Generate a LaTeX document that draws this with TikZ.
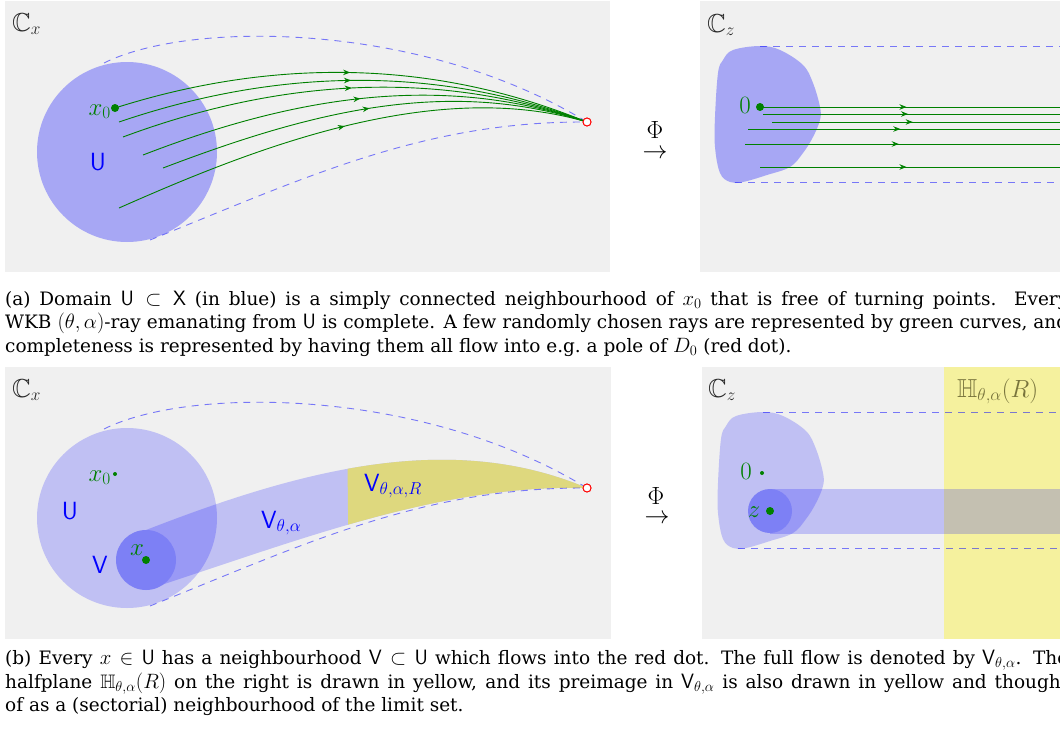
\documentclass[tikz,border=0pt]{standalone}
\usepackage{amssymb}
\usepackage[no-math]{fontspec}
\newfontfamily\capfont[Scale=0.947]{DejaVu Serif}
\usetikzlibrary{decorations.markings,arrows.meta}
\definecolor{bgray}{RGB}{240,240,240}
\definecolor{dgreen}{RGB}{0,128,0}
\definecolor{vblue}{RGB}{125,128,245}
\definecolor{yband}{RGB}{245,241,158}
\definecolor{yleft}{RGB}{222,216,126}
\definecolor{hlabel}{RGB}{120,116,60}
\definecolor{cgray}{RGB}{40,40,40}
\newcommand{\captxt}{\fontsize{19.5}{23.5}\selectfont\capfont}
\tikzset{
  panel/.style={fill=bgray},
  lbl/.style={font=\fontsize{26}{30}\selectfont, inner sep=0pt},
  ray/.style={draw=dgreen, line width=0.9pt, postaction={decorate},
    decoration={markings, mark=at position #1 with {\arrow{Stealth[length=7pt,width=5.5pt]}}}},
  ray/.default=0.5,
  env/.style={draw=blue, draw opacity=0.5, line width=0.9pt, dash pattern=on 7pt off 6pt},
  capline/.style={anchor=base west, inner sep=0pt, font=\fontsize{19.5}{23.5}\selectfont},
  pole/.style={circle, draw=red, fill=white, line width=0.9pt, minimum size=8pt, inner sep=0pt},
  gdot/.style={circle, fill=dgreen, inner sep=0pt, minimum size=8pt},
  sdot/.style={circle, fill=dgreen, inner sep=0pt, minimum size=4pt},
  phil/.style={inner sep=0pt, font=\fontsize{23}{27}\selectfont},
  arrl/.style={inner sep=0pt, font=\fontsize{29}{33}\selectfont},
}
\begin{document}
\begin{tikzpicture}[x=1pt,y=-1pt]
\useasboundingbox (0,0) rectangle (1060,731);
\clip (0,0) rectangle (1060,731);

% ================= TOP LEFT =================
\fill[panel] (5,1) rectangle (610,272);
\fill[blue, fill opacity=0.3] (127,152) circle (90);
\node[pole] (pole1) at (587,122) {};
\coordinate (eu1) at (104,63);
\coordinate (el1) at (150,240);
\draw[env] (eu1) .. controls (190,20) and (420,22) .. (pole1);
\draw[env] (el1) .. controls (300,180) and (420,122) .. (pole1);
\node[gdot] (x0d1) at (115,108) {};
\coordinate (s2) at (119,122);
\coordinate (s3) at (123,137);
\coordinate (s4) at (143,155);
\coordinate (s5) at (163,168);
\coordinate (s6) at (119,208);
\draw[ray] (x0d1.center) .. controls (260,62) and (420,55) .. (pole1);
\draw[ray] (s2) .. controls (260,74) and (420,60) .. (pole1);
\draw[ray] (s3) .. controls (260,86) and (420,64) .. (pole1);
\draw[ray] (s4) .. controls (280,102) and (430,70) .. (pole1);
\draw[ray] (s5) .. controls (300,116) and (440,76) .. (pole1);
\draw[ray] (s6) .. controls (250,150) and (430,78) .. (pole1);
\node[pole] at (pole1) {};
\node[lbl, anchor=base west, text=cgray] (cx1) at (12,31) {$\mathbb{C}_x$};
\node[lbl, anchor=base east, text=dgreen] (x0l1) at (111,115) {$x_0$};
\node[lbl, anchor=base, text=blue] (ul1) at (98,170) {$\mathsf{U}$};

% ================= TOP RIGHT =================
\fill[panel] (700,1) rectangle (1060,272);
\fill[blue, fill opacity=0.3] plot[smooth cycle, tension=0.6] coordinates {
  (723,60) (733,50) (760,46) (780,50) (803,65) (813,83) (820,107) (820,120)
  (813,137) (803,153) (790,167) (767,175) (743,182) (730,182) (720,173)
  (715,147) (715,117) (718,73)};
\coordinate (tu) at (760,46);
\coordinate (tue) at (1062,46);
\coordinate (tl) at (735,182);
\coordinate (tle) at (1062,182);
\draw[env] (tu) -- (tue);
\draw[env] (tl) -- (tle);
\node[gdot] (z0d1) at (760,107) {};
\coordinate (e1) at (1062,107);
\coordinate (r2) at (763,114);  \coordinate (e2) at (1062,114);
\coordinate (r3) at (772,122);  \coordinate (e3) at (1062,122);
\coordinate (r4) at (748,129);  \coordinate (e4) at (1062,129);
\coordinate (r5) at (745,144);  \coordinate (e5) at (1062,144);
\coordinate (r6) at (760,167);  \coordinate (e6) at (1062,167);
\draw[ray=0.485] (z0d1.center) -- (e1);
\draw[ray=0.485] (r2) -- (e2);
\draw[ray=0.485] (r3) -- (e3);
\draw[ray=0.485] (r4) -- (e4);
\draw[ray=0.485] (r5) -- (e5);
\draw[ray=0.485] (r6) -- (e6);
\node[lbl, anchor=base west, text=cgray] (cz1) at (707,32) {$\mathbb{C}_z$};
\node[lbl, anchor=base east, text=dgreen] (z0l1) at (751,113) {$0$};
\node[phil] (phi1) at (655,130) {$\Phi$};
\node[arrl] (ar1) at (655,154) {$\rightarrow$};

% ================= BOTTOM LEFT =================
\fill[panel] (5,367) rectangle (611,639);
\fill[blue, fill opacity=0.2] (127,518) circle (90);
\node[pole] (pole2) at (587,488) {};
\fill[blue, fill opacity=0.2] (146,530) .. controls (300,470) and (450,430) .. (pole2.center)
   .. controls (440,484) and (300,540) .. (146,590) -- cycle;
\begin{scope}
  \clip (347,420) -- (600,420) -- (600,600) -- (349,600) -- cycle;
  \fill[yleft] (146,530) .. controls (300,470) and (450,430) .. (pole2.center)
   .. controls (440,484) and (300,540) .. (146,590) -- cycle;
\end{scope}
\fill[vblue] (146,560) circle (30);
\coordinate (eu2) at (104,429);
\coordinate (el2) at (150,606);
\draw[env] (eu2) .. controls (190,386) and (420,388) .. (pole2);
\draw[env] (el2) .. controls (300,546) and (420,488) .. (pole2);
\node[pole] at (pole2) {};
\node[sdot] (x0d2) at (115,474) {};
\node[gdot] (xd2) at (146,560) {};
\node[lbl, anchor=base west, text=cgray] (cx2) at (12,397) {$\mathbb{C}_x$};
\node[lbl, anchor=base east, text=dgreen] (x0l2) at (111,481) {$x_0$};
\node[lbl, anchor=base, text=blue] (ul2) at (70,519) {$\mathsf{U}$};
\node[lbl, anchor=base, text=blue] (vl2) at (100,573) {$\mathsf{V}$};
\node[lbl, anchor=base, text=dgreen] (xl2) at (137,555) {$x$};
\node[lbl, anchor=base west, text=blue] (vtal) at (261,528) {$\mathsf{V}_{\theta,\alpha}$};
\node[lbl, anchor=base west, text=blue] (vtarl) at (364,491) {$\mathsf{V}_{\theta,\alpha,R}$};

% ================= BOTTOM RIGHT =================
\fill[panel] (702,367) rectangle (1060,639);
\fill[yband] (944,367) rectangle (1060,639);
\fill[blue, fill opacity=0.2] plot[smooth cycle, tension=0.6] coordinates {
  (726,426) (736,416) (763,412) (783,416) (806,431) (816,449) (823,473) (823,486)
  (816,503) (806,519) (793,533) (770,541) (746,548) (733,548) (723,539)
  (718,513) (718,483) (721,439)};
\fill[blue, fill opacity=0.2] (770,488.5) rectangle (1062,533.5);
\fill[vblue] (770,511) circle (22);
\coordinate (bu) at (763,412);
\coordinate (bue) at (1062,412);
\coordinate (bl) at (738,548);
\coordinate (ble) at (1062,548);
\draw[env] (bu) -- (bue);
\draw[env] (bl) -- (ble);
\node[sdot] (z0d2) at (762,473) {};
\node[gdot] (zd2) at (770,511) {};
\node[lbl, anchor=base west, text=cgray] (cz2) at (708,397) {$\mathbb{C}_z$};
\node[lbl, anchor=base west, text=hlabel] (hl) at (957,397) {$\mathbb{H}_{\theta,\alpha}(R)$};
\node[lbl, anchor=base east, text=dgreen] (z0l2) at (752,479) {$0$};
\node[lbl, anchor=base, text=dgreen] (zl2) at (754,517) {$z$};
\node[phil] (phi2) at (656,496) {$\Phi$};
\node[arrl] (ar2) at (657,519) {$\rightarrow$};

% ================= CAPTIONS =================
\node[capline] (ca1) at (5,305) {\captxt\makebox[1063pt][s]{(a) Domain $\mathsf{U}\subset\mathsf{X}$ (in blue) is a simply connected neighbourhood of $x_0$ that is free of turning points.\ \ Every}};
\node[capline] (ca2) at (5,328.5) {\captxt\makebox[1063pt][s]{WKB $(\theta,\alpha)$-ray emanating from $\mathsf{U}$ is complete. A few randomly chosen rays are represented by green curves, and}};
\node[capline] (ca3) at (5,352) {\captxt completeness is represented by having them all flow into e.g.\ a pole of $D_0$ (red dot).};
\node[capline] (cb1) at (5,664.5) {\captxt\makebox[1063pt][s]{(b) Every $x\in\mathsf{U}$ has a neighbourhood $\mathsf{V}\subset\mathsf{U}$ which flows into the red dot. The full flow is denoted by $\mathsf{V}_{\theta,\alpha}$. The}};
\node[capline] (cb2) at (5,688) {\captxt\makebox[1063pt][s]{halfplane $\mathbb{H}_{\theta,\alpha}(R)$ on the right is drawn in yellow, and its preimage in $\mathsf{V}_{\theta,\alpha}$ is also drawn in yellow and thought}};
\node[capline] (cb3) at (5,711.5) {\captxt of as a (sectorial) neighbourhood of the limit set.};
\end{tikzpicture}
\end{document}
